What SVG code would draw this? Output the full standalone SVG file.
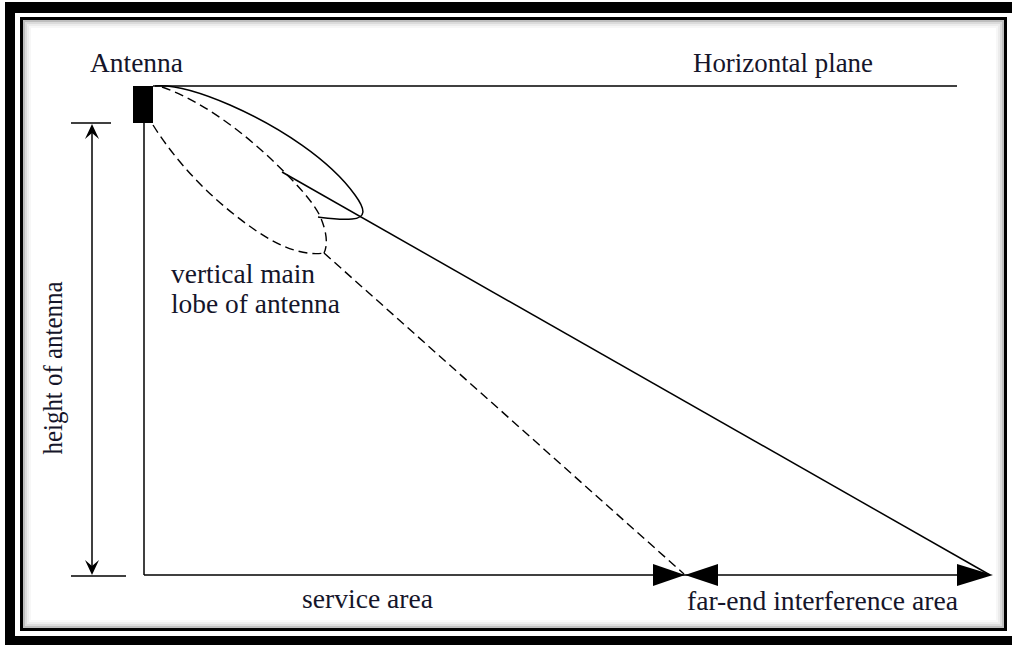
<svg xmlns="http://www.w3.org/2000/svg" width="1012" height="645" viewBox="0 0 1012 645">
  <style>
    .lbl { font-family: "Liberation Serif", "Times New Roman", serif; font-size: 27px; fill: #15152a; }
    .ln { stroke: #000; stroke-width: 1.5; fill: none; }
    .dash { stroke: #000; stroke-width: 1.4; fill: none; stroke-dasharray: 9 5; }
    .tri { fill: #000; }
  </style>
  <rect x="0" y="0" width="1012" height="645" fill="#fff"/>
  <g id="frame">
    <path d="M5,2 H1012 V13 H15 V636 H1012 V645 H5 Z" fill="#000"/>
    <rect x="21.5" y="18.5" width="984" height="611" fill="none" stroke="#000" stroke-width="3"/>
    <rect x="24" y="21" width="979" height="606" fill="none" stroke="#888" stroke-opacity="0.55" stroke-width="2"/>
    <rect x="26" y="23" width="975" height="602" fill="none" stroke="#999" stroke-opacity="0.35" stroke-width="2"/>
    <rect x="28" y="25" width="971" height="598" fill="none" stroke="#aaa" stroke-opacity="0.22" stroke-width="2"/>
    <rect x="30" y="27" width="967" height="594" fill="none" stroke="#bbb" stroke-opacity="0.12" stroke-width="2"/>
  </g>

  <g id="antenna">
    <rect x="133" y="86" width="20" height="37" fill="#000"/>
    <text class="lbl" x="90" y="72" textLength="93" lengthAdjust="spacingAndGlyphs">Antenna</text>
  </g>

  <g id="horizontal-plane">
    <text class="lbl" x="693" y="72" textLength="180" lengthAdjust="spacingAndGlyphs">Horizontal plane</text>
  </g>

  <g id="lobe-label">
    <text class="lbl" x="171" y="283" textLength="144" lengthAdjust="spacingAndGlyphs">vertical main</text>
    <text class="lbl" x="171" y="313" textLength="169" lengthAdjust="spacingAndGlyphs">lobe of antenna</text>
  </g>

  <g id="height-label">
    <text class="lbl" transform="translate(62,368) rotate(-90)" text-anchor="middle" textLength="173" lengthAdjust="spacingAndGlyphs">height of antenna</text>
  </g>

  <g id="area-labels">
    <text class="lbl" x="302" y="608" textLength="131" lengthAdjust="spacingAndGlyphs">service area</text>
    <text class="lbl" x="687" y="610" textLength="271" lengthAdjust="spacingAndGlyphs">far-end interference area</text>
  </g>

  <g id="connectors">
    <line class="ln" x1="153" y1="86" x2="957" y2="86"/>
    <line class="ln" x1="144" y1="123" x2="144" y2="575"/>
    <line class="ln" x1="144" y1="575" x2="990" y2="575"/>
    <line class="ln" x1="71" y1="123" x2="111" y2="123"/>
    <line class="ln" x1="71" y1="576" x2="126" y2="576"/>
    <line class="ln" x1="92" y1="126" x2="92" y2="573"/>
    <path class="tri" d="M92,124 L85,139 L92,133 L99,139 Z"/>
    <path class="tri" d="M92,575 L85,560 L92,566 L99,560 Z"/>
    <path class="ln" d="M155,86 C175,84 200,92 230,105 C280,127 330,160 355,195 C366,210 366,218 352,219 C338,220 326,218 318,217"/>
    <line class="ln" x1="282" y1="172" x2="990" y2="575"/>
    <path class="dash" d="M162,87 C200,100 240,130 270,158 C295,182 312,200 320,216 C327,232 328,245 324,253"/>
    <path class="dash" d="M153,125 C180,168 218,205 258,232 C282,248 305,256 324,253"/>
    <line class="dash" x1="324" y1="253" x2="684" y2="574"/>
    <path class="tri" d="M685,575 L653,564 L653,586 Z"/>
    <path class="tri" d="M685,575 L718,564 L718,586 Z"/>
    <path class="tri" d="M993,575 L957,564 L957,586 Z"/>
  </g>
</svg>
